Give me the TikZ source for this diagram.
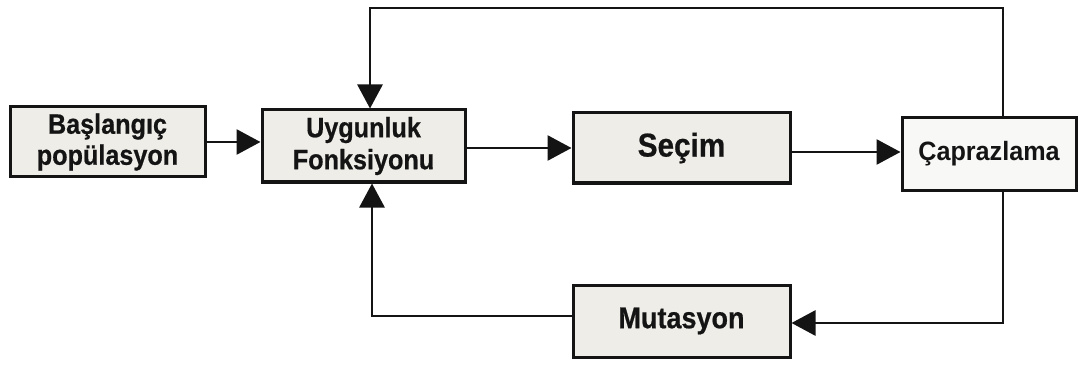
\documentclass[tikz,border=0pt]{standalone}
\usepackage{fontspec}
\setmainfont{Liberation Sans}
\newfontfamily\heavyfont{Liberation Sans Bold}[FakeStretch=0.9,FakeBold=0.6]
\newfontfamily\medfont{Liberation Sans Bold}[FakeStretch=0.95]
\usetikzlibrary{arrows.meta}
\definecolor{boxgrey}{HTML}{EEEDE8}
\definecolor{boxlight}{HTML}{F8F8F6}
\definecolor{ink}{HTML}{141414}
\begin{document}
\begin{tikzpicture}[x=1pt,y=-1pt,
  stage/.style={draw=ink,line width=3pt,fill=boxgrey,inner sep=0pt,align=center,
    text=ink,font=\heavyfont\fontsize{28}{31}\selectfont},
  arr/.style={draw=ink,line width=2.8pt,-{Triangle[length=24pt,width=25pt]}}]
  \useasboundingbox[fill=white] (0,0) rectangle (1083,366);

  % process stages
  \node[stage,minimum width=195pt,minimum height=70pt] (b) at (107.5,142)
    {Başlangıç\\popülasyon};
  \node[stage,minimum width=203pt,minimum height=72pt,
        font=\heavyfont\fontsize{28}{32}\selectfont] (u) at (363.5,146)
    {Uygunluk\\Fonksiyonu};
  \node[stage,minimum width=217pt,minimum height=70pt,
        font=\heavyfont\fontsize{33}{36}\selectfont] (s) at (681.5,148) {Seçim};
  \node[stage,fill=boxlight,minimum width=174pt,minimum height=72pt,
        font=\medfont\fontsize{26.5}{30}\selectfont] (c) at (989,154) {Çaprazlama};
  \node[stage,minimum width=217pt,minimum height=72pt,
        font=\heavyfont\fontsize{30}{34}\selectfont] (m) at (681.5,321) {Mutasyon};

  % corner points of the feedback loops
  \coordinate (tr) at (1003,8);
  \coordinate (tl) at (370,8);
  \coordinate (br) at (1003,323);
  \coordinate (bl) at (372,316);

  % forward flow
  \draw[arr] (b.east) -- (b.east -| u.west);
  \draw[arr] (u.east |- s.west) -- (s.west);
  \draw[arr] ([yshift=-4pt]s.east) -- ([yshift=-4pt]s.east -| c.west);

  % loops back to the fitness function
  \draw[arr] (c.north -| tr) -- (tr) -- (tl) -- (tl |- u.north);
  \draw[arr] (c.south -| br) -- (br) -- (br -| m.east);
  \draw[arr] (bl -| m.west) -- (bl) -- (bl |- u.south);
\end{tikzpicture}
\end{document}
